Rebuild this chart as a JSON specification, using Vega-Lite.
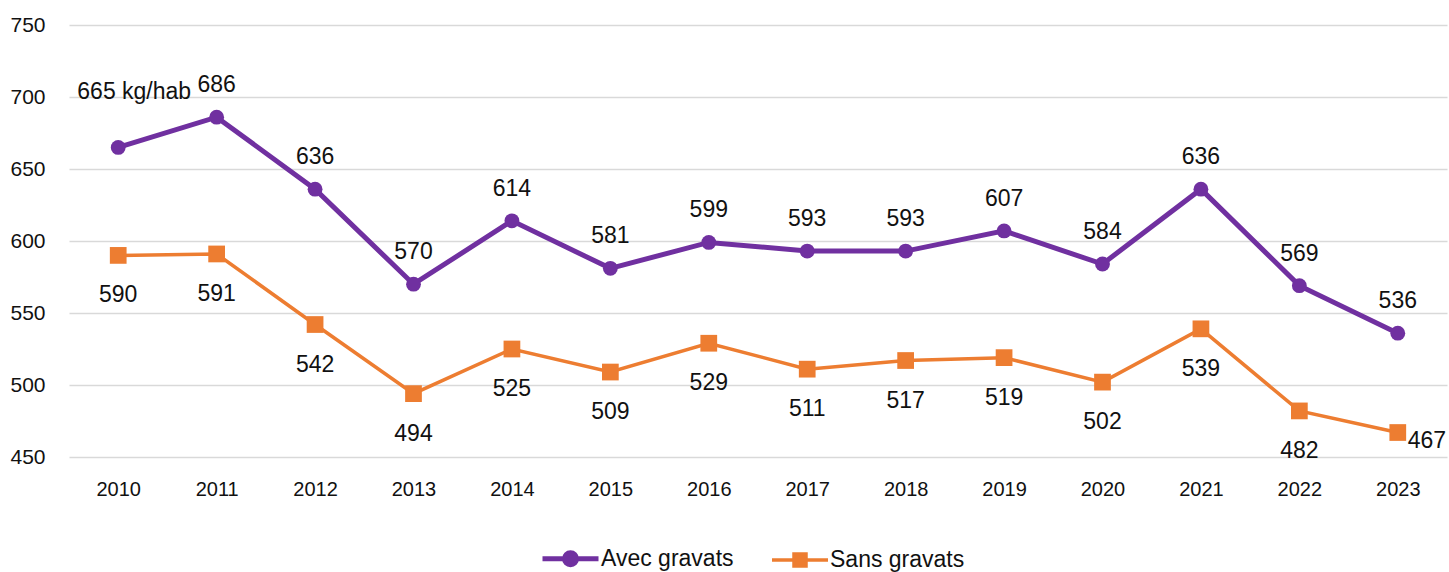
{
  "$schema": "https://vega.github.io/schema/vega-lite/v6.json",
  "autosize": "none",
  "width": 1378,
  "height": 432,
  "padding": {"left": 69, "top": 25, "right": 2, "bottom": 115},
  "background": "white",
  "config": {
    "view": {"stroke": null},
    "font": "Liberation Sans",
    "axis": {"labelFont": "Liberation Sans", "labelColor": "#111111"}
  },
  "data": {
    "values": [
      {"year": "2010", "series": "Avec gravats", "value": 665, "label": "665 kg/hab"},
      {"year": "2011", "series": "Avec gravats", "value": 686, "label": "686"},
      {"year": "2012", "series": "Avec gravats", "value": 636, "label": "636"},
      {"year": "2013", "series": "Avec gravats", "value": 570, "label": "570"},
      {"year": "2014", "series": "Avec gravats", "value": 614, "label": "614"},
      {"year": "2015", "series": "Avec gravats", "value": 581, "label": "581"},
      {"year": "2016", "series": "Avec gravats", "value": 599, "label": "599"},
      {"year": "2017", "series": "Avec gravats", "value": 593, "label": "593"},
      {"year": "2018", "series": "Avec gravats", "value": 593, "label": "593"},
      {"year": "2019", "series": "Avec gravats", "value": 607, "label": "607"},
      {"year": "2020", "series": "Avec gravats", "value": 584, "label": "584"},
      {"year": "2021", "series": "Avec gravats", "value": 636, "label": "636"},
      {"year": "2022", "series": "Avec gravats", "value": 569, "label": "569"},
      {"year": "2023", "series": "Avec gravats", "value": 536, "label": "536"},
      {"year": "2010", "series": "Sans gravats", "value": 590, "label": "590"},
      {"year": "2011", "series": "Sans gravats", "value": 591, "label": "591"},
      {"year": "2012", "series": "Sans gravats", "value": 542, "label": "542"},
      {"year": "2013", "series": "Sans gravats", "value": 494, "label": "494"},
      {"year": "2014", "series": "Sans gravats", "value": 525, "label": "525"},
      {"year": "2015", "series": "Sans gravats", "value": 509, "label": "509"},
      {"year": "2016", "series": "Sans gravats", "value": 529, "label": "529"},
      {"year": "2017", "series": "Sans gravats", "value": 511, "label": "511"},
      {"year": "2018", "series": "Sans gravats", "value": 517, "label": "517"},
      {"year": "2019", "series": "Sans gravats", "value": 519, "label": "519"},
      {"year": "2020", "series": "Sans gravats", "value": 502, "label": "502"},
      {"year": "2021", "series": "Sans gravats", "value": 539, "label": "539"},
      {"year": "2022", "series": "Sans gravats", "value": 482, "label": "482"},
      {"year": "2023", "series": "Sans gravats", "value": 467, "label": "467"}
    ]
  },
  "encoding": {
    "x": {
      "field": "year", "type": "ordinal",
      "scale": {"type": "point", "padding": 0.5},
      "axis": {"title": null, "domain": false, "ticks": false, "labelAngle": 0, "labelFontSize": 20, "labelPadding": 22, "grid": false}
    },
    "y": {
      "field": "value", "type": "quantitative",
      "scale": {"domain": [450, 750], "nice": false, "zero": false},
      "axis": {"title": null, "domain": false, "ticks": false, "values": [450, 500, 550, 600, 650, 700, 750], "labelFontSize": 21, "labelPadding": 24, "grid": true, "gridColor": "#D9D9D9", "gridWidth": 1.5}
    }
  },
  "layer": [
    {
      "mark": {"type": "line"},
      "encoding": {
        "color": {
          "field": "series", "type": "nominal",
          "scale": {"domain": ["Avec gravats", "Sans gravats"], "range": ["#7030A0", "#ED7D31"]},
          "legend": {
            "title": null,
            "orient": "none",
            "direction": "horizontal",
            "legendX": 489,
            "legendY": 521,
            "padding": 0,
            "labelFontSize": 23,
            "labelColor": "#111111",
            "labelFont": "Liberation Sans",
            "labelOffset": 18,
            "symbolSize": 400,
            "columnPadding": 31,
            "encode": {
              "symbols": {
                "update": {
                  "shape": {"signal": "datum.value == 'Avec gravats' ? 'M-2.8,0L2.8,0M0.6,0A0.6,0.6 0 1,1 -0.6,0A0.6,0.6 0 1,1 0.6,0Z' : 'M-2.8,0L2.8,0M-0.6,-0.6L0.6,-0.6L0.6,0.6L-0.6,0.6Z'"},
                  "strokeWidth": {"signal": "datum.value == 'Avec gravats' ? 5 : 3.5"},
                  "fill": {"scale": "color", "field": "value"},
                  "stroke": {"scale": "color", "field": "value"},
                  "opacity": {"value": 1},
                  "fillOpacity": {"value": 1}
                }
              }
            }
          }
        },
        "strokeWidth": {
          "field": "series", "type": "nominal",
          "scale": {"domain": ["Avec gravats", "Sans gravats"], "range": [5, 3.5]},
          "legend": null
        }
      }
    },
    {
      "transform": [{"filter": "datum.series == 'Avec gravats'"}],
      "mark": {"type": "point", "shape": "circle", "filled": true, "opacity": 1, "size": 220},
      "encoding": {"color": {"field": "series", "type": "nominal"}}
    },
    {
      "transform": [{"filter": "datum.series == 'Sans gravats'"}],
      "mark": {"type": "point", "shape": "square", "filled": true, "opacity": 1, "size": 280},
      "encoding": {"color": {"field": "series", "type": "nominal"}}
    },
    {
      "transform": [{"filter": "datum.series == 'Avec gravats' && datum.year != '2010'"}],
      "mark": {"type": "text", "fontSize": 23, "dy": -32, "baseline": "middle", "color": "#111111"},
      "encoding": {"text": {"field": "label"}}
    },
    {
      "transform": [{"filter": "datum.series == 'Avec gravats' && datum.year == '2010'"}],
      "mark": {"type": "text", "fontSize": 23, "dx": 16, "dy": -55, "baseline": "middle", "color": "#111111"},
      "encoding": {"text": {"field": "label"}}
    },
    {
      "transform": [{"filter": "datum.series == 'Sans gravats' && datum.year != '2023'"}],
      "mark": {"type": "text", "fontSize": 23, "dy": 40, "baseline": "middle", "color": "#111111"},
      "encoding": {"text": {"field": "label"}}
    },
    {
      "transform": [{"filter": "datum.series == 'Sans gravats' && datum.year == '2023'"}],
      "mark": {"type": "text", "fontSize": 23, "dx": 10, "dy": 8, "align": "left", "baseline": "middle", "color": "#111111"},
      "encoding": {"text": {"field": "label"}}
    }
  ]
}
